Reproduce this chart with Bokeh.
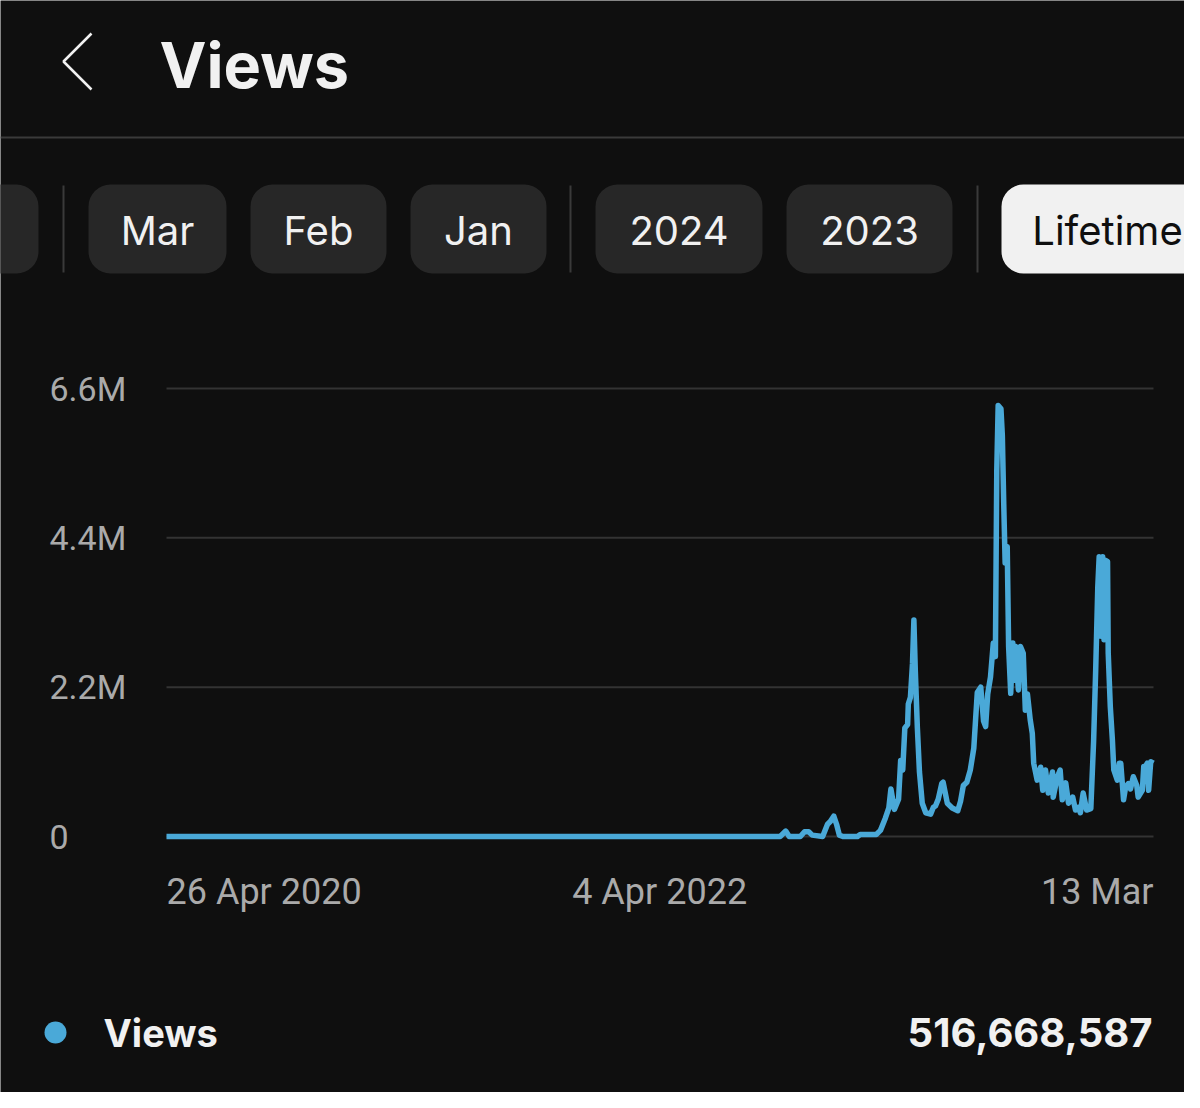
import pandas as pd
from bokeh.plotting import figure
from bokeh.models import Range1d, ColumnDataSource
from bokeh.core.properties import value
from bokeh.embed import file_html
from bokeh.resources import INLINE

# ---------------- data ----------------
start_date = "2020-04-26"
end_date = "2024-03-13"

# days since 26 Apr 2020
day_offsets = [
    0, 881, 889, 894, 910, 916, 922, 927, 942, 949, 953, 958, 962, 966, 971,
    992, 996, 1019, 1025, 1032, 1037, 1040, 1045, 1051, 1054, 1057, 1060, 1064,
    1065, 1068, 1071, 1073, 1075, 1078, 1081, 1085, 1090, 1097, 1101, 1104, 1108,
    1113, 1115, 1121, 1128, 1136, 1140, 1144, 1149, 1154, 1159, 1164, 1169, 1173,
    1176, 1179, 1183, 1187, 1190, 1192, 1194, 1198, 1200, 1202, 1204, 1207, 1209,
    1212, 1215, 1216, 1219, 1223, 1226, 1230, 1233, 1236, 1240, 1243, 1245, 1250,
    1255, 1258, 1262, 1266, 1272, 1273, 1279, 1283, 1286, 1291, 1295, 1301, 1305,
    1309, 1312, 1316, 1321, 1327, 1331, 1334, 1337, 1339, 1342, 1344, 1346, 1348,
    1351, 1352, 1355, 1358, 1360, 1365, 1368, 1370, 1374, 1377, 1381, 1384, 1388,
    1393, 1395, 1401, 1403, 1405, 1408, 1410, 1413, 1417,
]
# daily views, millions
views_m = [
    0.0, 0.0, 0.08, 0.0, 0.0, 0.07, 0.07, 0.02, 0.0, 0.18, 0.22, 0.30, 0.18, 0.02, 0.0,
    0.0, 0.03, 0.03, 0.09, 0.27, 0.42, 0.70, 0.40, 0.55, 1.12, 0.98, 1.60, 1.65,
    1.95, 2.05, 2.55, 3.19, 2.45, 1.60, 0.95, 0.49, 0.35, 0.33, 0.43, 0.45, 0.55,
    0.78, 0.80, 0.49, 0.42, 0.38, 0.52, 0.75, 0.80, 0.98, 1.30, 2.12, 2.20, 1.70,
    1.62, 2.10, 2.35, 2.85, 2.65, 5.40, 6.35, 6.30, 5.90, 4.90, 4.03, 4.27, 2.80,
    2.11, 2.85, 2.30, 2.80, 2.16, 2.80, 2.70, 1.86, 2.10, 1.72, 1.52, 1.08, 0.83,
    1.02, 0.68, 0.98, 0.64, 0.95, 0.58, 0.88, 0.98, 0.54, 0.79, 0.49, 0.58, 0.39,
    0.43, 0.35, 0.64, 0.39, 0.41, 1.40, 2.45, 3.67, 4.12, 2.95, 4.12, 2.90, 4.07,
    4.05, 2.70, 1.91, 1.42, 0.98, 0.83, 1.08, 1.08, 0.54, 0.73, 0.78, 0.70, 0.88,
    0.75, 0.58, 0.68, 1.03, 1.02, 1.08, 0.68, 1.10, 1.08,
]

y_ticks = [0, 2.2e6, 4.4e6, 6.6e6]
y_tick_labels = ["0", "2.2M", "4.4M", "6.6M"]
x_tick_dates = ["2020-04-26", "2022-04-04", "2024-03-13"]
x_tick_labels = ["26 Apr 2020", "4 Apr 2022", "13 Mar"]
x_tick_align = ["left", "center", "right"]

periods = ["Mar", "Feb", "Jan", "2024", "2023", "Lifetime"]
selected_period = "Lifetime"
metric_name = "Views"
total_views = "516,668,587"

# ---------------- styles / layout (pixel coordinates of the canvas) ----------------
BG = "#0f0f0f"
BLUE = "#4aa9d8"
WHITE = "#f1f1f1"
GREY_TXT = "#aaaaaa"
GRID = "#333333"
PILL = "#272727"
SEP = "#3a3a3a"

W, H = 1184, 1092
FRAME_L, FRAME_R = 166, 1153      # where first / last date fall
ZERO_Y, TOP_Y = 836, 388          # where 0 and 6.6M fall

t0 = pd.Timestamp(start_date)
t1 = pd.Timestamp(end_date)
per_px = (t1 - t0) / (FRAME_R - FRAME_L)
x_range = Range1d(t0 - per_px * FRAME_L, t1 + per_px * (W - FRAME_R))
v_per_px = y_ticks[-1] / (ZERO_Y - TOP_Y)
y_range = Range1d(-(H - ZERO_Y) * v_per_px, ZERO_Y * v_per_px)

p = figure(
    width=W, height=H,
    x_axis_type="datetime", x_range=x_range, y_range=y_range,
    x_axis_location=None, y_axis_location=None,
    output_backend="svg", toolbar_location=None, title=None,
    min_border=0, background_fill_color=BG, border_fill_color=BG,
    outline_line_color=None,
)
p.grid.visible = False
p.extra_x_ranges = {"px": Range1d(0, W)}
p.extra_y_ranges = {"py": Range1d(H, 0)}
PX = dict(x_range_name="px", y_range_name="py")

# ---------------- header ----------------
p.line(x=[91, 63, 91], y=[33, 61, 89], line_color=WHITE, line_width=2.5, **PX)
p.text(x=[159], y=[64], text=[metric_name], text_color=WHITE,
       text_font=value("Inter"), text_font_style="bold",
       text_font_size=value("63px"), text_baseline="middle", **PX)
p.segment(x0=[0], x1=[W], y0=[137], y1=[137], line_color=SEP, line_width=2, **PX)

# period chips
pill_left = [88, 250, 410, 595, 786, 1001]
pill_right = [226, 386, 546, 762, 952, 1213]
pill_cx = [(a + b) / 2 for a, b in zip(pill_left, pill_right)]
pill_w = [b - a for a, b in zip(pill_left, pill_right)]
pill_fill = [WHITE if s == selected_period else PILL for s in periods]
pill_txt = ["#0f0f0f" if s == selected_period else WHITE for s in periods]
# partially scrolled-off chip on the left
p.rect(x=[-31], y=[228.5], width=[138], height=[89], fill_color=PILL,
       line_color=None, border_radius=22, **PX)
p.rect(x=pill_cx, y=[228.5] * len(periods), width=pill_w, height=[89] * len(periods),
       fill_color=pill_fill, line_color=None, border_radius=22, **PX)
p.text(x=pill_cx, y=[230] * len(periods), text=periods, text_color=pill_txt,
       text_font=value("Inter"), text_font_size=value("40px"),
       text_align="center", text_baseline="middle", **PX)
p.segment(x0=[63, 570, 977], x1=[63, 570, 977], y0=[185] * 3, y1=[272] * 3,
          line_color=SEP, line_width=2, **PX)

# ---------------- chart ----------------
dates = t0 + pd.to_timedelta(day_offsets, unit="D")
src = ColumnDataSource(dict(date=dates, views=[v * 1e6 for v in views_m]))

p.segment(x0=[t0] * len(y_ticks), x1=[t1] * len(y_ticks), y0=y_ticks, y1=y_ticks,
          line_color=GRID, line_width=2)
p.text(x=[49] * len(y_ticks), y=y_ticks, text=y_tick_labels, text_color=GREY_TXT,
       text_font=value("Roboto"), text_font_size=value("34px"),
       text_align="left", text_baseline="middle", x_range_name="px")
for d, lab, al in zip(x_tick_dates, x_tick_labels, x_tick_align):
    p.text(x=[pd.Timestamp(d)], y=[891], text=[lab], text_color=GREY_TXT,
           text_font=value("Roboto"), text_font_size=value("36px"),
           text_align=al, text_baseline="middle", y_range_name="py")

p.line(x="date", y="views", source=src, line_color=BLUE, line_width=5.5,
       line_join="round")

# ---------------- legend / total ----------------
p.scatter(x=[55], y=[1032], size=22, fill_color=BLUE, line_color=None, **PX)
p.text(x=[103], y=[1032], text=[metric_name], text_color=WHITE,
       text_font=value("Inter"), text_font_style="bold", text_font_size=value("38px"),
       text_baseline="middle", **PX)
p.text(x=[1152], y=[1032], text=[total_views], text_color=WHITE,
       text_font=value("Inter"), text_font_style="bold", text_font_size=value("40px"),
       text_align="right", text_baseline="middle", **PX)

open("out.html", "w").write(file_html(p, INLINE))
